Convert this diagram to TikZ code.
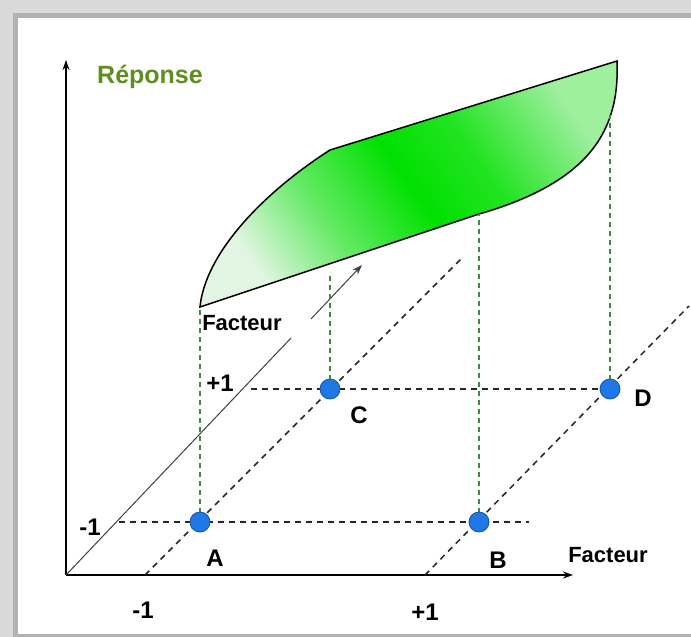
\documentclass[tikz,border=0pt]{standalone}
\usepackage{fontspec}
\setmainfont{Liberation Sans}
\usetikzlibrary{arrows.meta}
\definecolor{surfgreen}{HTML}{00E000}
\definecolor{palegreen}{HTML}{E2F5E2}
\definecolor{repgreen}{HTML}{5E8E1E}
\definecolor{ptblue}{HTML}{1E78E6}
\definecolor{guidegreen}{HTML}{3C8C3C}
\pgfdeclarehorizontalshading{surfshade}{100bp}{color(0bp)=(palegreen); color(25bp)=(palegreen); color(37bp)=(palegreen!45!surfgreen); color(50bp)=(surfgreen); color(60bp)=(surfgreen!85!palegreen); color(75bp)=(palegreen!70!surfgreen); color(100bp)=(palegreen!70!surfgreen)}

\begin{document}
\begin{tikzpicture}[x=0.5pt,y=-0.5pt,
  axis/.style={black, line width=1pt, -{Stealth[length=5pt,width=3.5pt]}},
  grid/.style={black!85, line width=0.75pt, dash pattern=on 3pt off 2.5pt},
  guide/.style={guidegreen, line width=0.6pt, dash pattern=on 2.5pt off 2pt},
  pt/.style={circle, fill=ptblue, draw=ptblue!70!black, line width=0.4pt, inner sep=0pt, minimum size=10pt},
  lbl/.style={font=\bfseries\fontsize{12}{12}\selectfont},
  fac/.style={font=\bfseries\fontsize{11}{11}\selectfont}]
\useasboundingbox (0,0) rectangle (691,637);
% cadre
\fill[black!15] (0,0) rectangle (691,637);
\fill[black!30] (13,13) rectangle (691,637);
\fill[white] (18,18) rectangle (691,634);

\coordinate (O) at (66,575);
\coordinate (yend) at (66,60);
\coordinate (xend) at (573,575);
\coordinate (dgap1) at (291,338);
\coordinate (dgap2) at (311,319);
\coordinate (dend) at (362,265);
\coordinate (xm) at (145,575);
\coordinate (xp) at (425,575);
\coordinate (t1) at (463,257);
\coordinate (t2) at (689,306);
\coordinate (h1s) at (119,522);
\coordinate (h1e) at (529,522);
\coordinate (h2s) at (251,389);
\coordinate (ptA) at (200,522);
\coordinate (ptB) at (479,522);
\coordinate (ptC) at (330,389);
\coordinate (ptD) at (610,389);
\coordinate (s1) at (200,307);
\coordinate (s2) at (330,150);
\coordinate (s3) at (617,61);
\coordinate (s4) at (486,212);
\coordinate (s5) at (479,214);
\coordinate (gC) at (330,272);
\coordinate (gD) at (610,115);

% surface de reponse
\shade[draw=black, line width=0.75pt, shading=surfshade, shading angle=35]
  (s1) .. controls (205,255) and (260,195) .. (s2) -- (s3)
  .. controls (620,130) and (590,180) .. (s4) -- (s5) -- cycle;

\draw[axis] (O) -- (yend);
\draw[axis] (O) -- (xend);
\draw[black!75, line width=0.5pt] (O) -- (dgap1);
\draw[black!75, line width=0.5pt, -{Stealth[length=5pt,width=3.5pt]}] (dgap2) -- (dend);

\draw[grid] (xm) -- (t1);
\draw[grid] (xp) -- (t2);
\draw[grid] (h1s) -- (h1e);
\draw[grid] (h2s) -- (ptD);

\draw[guide] (ptA) -- (s1);
\draw[guide] (ptC) -- (gC);
\draw[guide] (ptB) -- (s5);
\draw[guide] (ptD) -- (gD);

\node[pt] (A) at (ptA) {};
\node[pt] (B) at (ptB) {};
\node[pt] (C) at (ptC) {};
\node[pt] (D) at (ptD) {};

\node[font=\bfseries\fontsize{12.5}{12.5}\selectfont, text=repgreen] (rep) at (150,77) {Réponse};
\node[fac] (facz) at (242,323) {Facteur};
\node[fac] (facx) at (608,555) {Facteur};
\node[lbl] (zp) at (220,383) {+1};
\node[lbl] (zm) at (90,527) {-1};
\node[lbl] (labA) at (215,558) {A};
\node[lbl] (labB) at (498,560) {B};
\node[lbl] (labC) at (359,415) {C};
\node[lbl] (labD) at (643,398) {D};
\node[lbl] (xmlab) at (143,610) {-1};
\node[lbl] (xplab) at (425,612) {+1};
\end{tikzpicture}
\end{document}
